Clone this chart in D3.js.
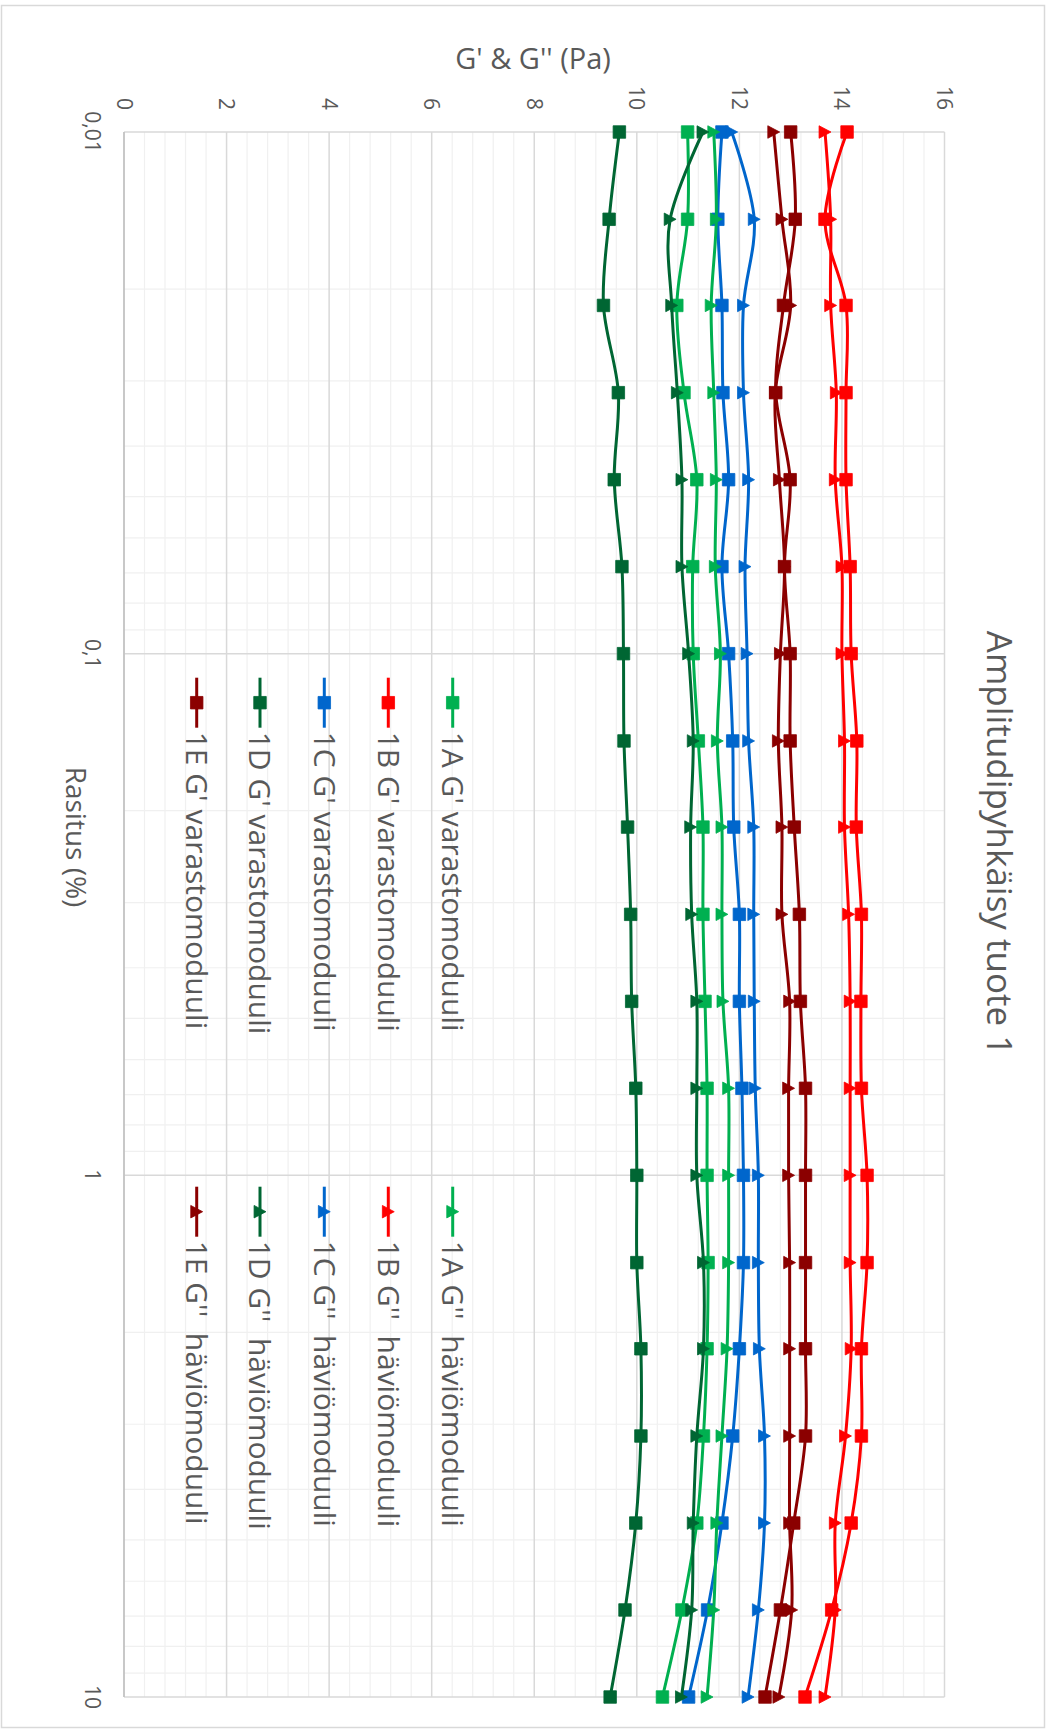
<!DOCTYPE html>
<html>
<head>
<meta charset="utf-8">
<script src="https://cdn.jsdelivr.net/npm/d3@7"></script>
<style>
  html, body { margin: 0; padding: 0; background: #ffffff; }
  svg { display: block; }
  text { font-family: "Open Sans", "Noto Sans", sans-serif; fill: #595959; white-space: pre; }
</style>
</head>
<body>
<svg id="chart" width="1050" height="1731"></svg>
<script>
// Strain amplitude sweep (%), 6 points per decade
const strain = [0.01, 0.0147, 0.0215, 0.0316, 0.0464, 0.0681, 0.1, 0.147, 0.215, 0.316,
                0.464, 0.681, 1, 1.47, 2.15, 3.16, 4.64, 6.81, 10];

// Storage modulus G' (Pa)
const g1A_storage = [10.99, 10.99, 10.78, 10.92, 11.17, 11.09, 11.10, 11.20, 11.29, 11.29,
                     11.33, 11.37, 11.37, 11.39, 11.37, 11.30, 11.17, 10.88, 10.50];
const g1B_storage = [14.10, 13.67, 14.08, 14.08, 14.08, 14.16, 14.18, 14.29, 14.28, 14.38,
                     14.37, 14.38, 14.49, 14.49, 14.38, 14.38, 14.18, 13.80, 13.28];
const g1C_storage = [11.66, 11.58, 11.66, 11.68, 11.79, 11.66, 11.79, 11.87, 11.89, 12.00,
                     12.00, 12.05, 12.08, 12.08, 12.00, 11.87, 11.66, 11.38, 11.01];
const g1D_storage = [9.66, 9.46, 9.35, 9.64, 9.56, 9.71, 9.74, 9.75, 9.82, 9.88,
                     9.90, 9.98, 10.00, 10.00, 10.08, 10.08, 9.98, 9.77, 9.48];
const g1E_storage = [13.00, 13.09, 12.86, 12.71, 12.99, 12.88, 12.99, 12.99, 13.07, 13.17,
                     13.19, 13.29, 13.29, 13.29, 13.29, 13.29, 13.06, 12.80, 12.50];

// Loss modulus G'' (Pa)
const g1A_loss = [11.50, 11.55, 11.45, 11.50, 11.55, 11.53, 11.63, 11.57, 11.66, 11.66,
                  11.68, 11.79, 11.79, 11.79, 11.76, 11.66, 11.56, 11.50, 11.37];
const g1B_loss = [13.67, 13.78, 13.78, 13.89, 13.87, 14.00, 14.00, 14.05, 14.05, 14.13,
                  14.16, 14.16, 14.16, 14.16, 14.18, 14.07, 13.87, 13.87, 13.67];
const g1C_loss = [11.85, 12.29, 12.08, 12.08, 12.18, 12.11, 12.15, 12.18, 12.28, 12.28,
                  12.29, 12.31, 12.37, 12.37, 12.39, 12.49, 12.49, 12.37, 12.17];
const g1D_loss = [11.29, 10.65, 10.68, 10.79, 10.88, 10.88, 11.01, 11.10, 11.05, 11.07,
                  11.17, 11.17, 11.17, 11.30, 11.30, 11.17, 11.10, 11.07, 10.87];
const g1E_loss = [12.67, 12.83, 13.00, 12.70, 12.78, 12.88, 12.80, 12.76, 12.83, 12.83,
                  12.98, 12.96, 12.96, 12.98, 12.98, 12.98, 12.98, 13.02, 12.77];

const seriesNames = [
  "1A G' varastomoduuli", "1B G' varastomoduuli", "1C G' varastomoduuli",
  "1D G' varastomoduuli", "1E G' varastomoduuli",
  "1A G''  häviömoduuli", "1B G''  häviömoduuli", "1C G''  häviömoduuli",
  "1D G''  häviömoduuli", "1E G''  häviömoduuli"
];
const seriesColors = ["#00b050", "#ff0000", "#0066cc", "#006633", "#8b0000"];

const gTicks = [0, 2, 4, 6, 8, 10, 12, 14, 16];
const strainTicks = [0.01, 0.1, 1, 10];
const strainTickLabels = ["0,01", "0,1", "1", "10"];

const titleText = "Amplitudipyhkäisy tuote 1";
const xTitleText = "Rasitus (%)";
const yTitleText = "G' & G'' (Pa)";

// ---------------------------------------------------------------
const series = [
  { name: seriesNames[0], color: seriesColors[0], values: g1A_storage, marker: "square" },
  { name: seriesNames[1], color: seriesColors[1], values: g1B_storage, marker: "square" },
  { name: seriesNames[2], color: seriesColors[2], values: g1C_storage, marker: "square" },
  { name: seriesNames[3], color: seriesColors[3], values: g1D_storage, marker: "square" },
  { name: seriesNames[4], color: seriesColors[4], values: g1E_storage, marker: "square" },
  { name: seriesNames[5], color: seriesColors[0], values: g1A_loss, marker: "triangle" },
  { name: seriesNames[6], color: seriesColors[1], values: g1B_loss, marker: "triangle" },
  { name: seriesNames[7], color: seriesColors[2], values: g1C_loss, marker: "triangle" },
  { name: seriesNames[8], color: seriesColors[3], values: g1D_loss, marker: "triangle" },
  { name: seriesNames[9], color: seriesColors[4], values: g1E_loss, marker: "triangle" }
];

const svg = d3.select("#chart");
svg.append("rect").attr("width", 1050).attr("height", 1731).attr("fill", "#ffffff");

// outer chart-area frame
svg.append("rect")
  .attr("x", 1.5).attr("y", 5.5).attr("width", 1043).attr("height", 1722)
  .attr("fill", "none").attr("stroke", "#d9d9d9").attr("stroke-width", 1.5);

// The whole chart is laid out landscape and turned a quarter turn clockwise.
const g = svg.append("g").attr("transform", "translate(1050,0) rotate(90)");

const plot = { left: 132, right: 1697, top: 105.5, bottom: 926 };

const x = d3.scaleLog().domain([0.01, 10]).range([plot.left, plot.right]);
const y = d3.scaleLinear().domain([0, 16]).range([plot.bottom, plot.top]);

// minor grid
const gMinor = d3.range(0, 16.0001, 0.4).filter(v => Math.abs(v / 2 - Math.round(v / 2)) > 1e-6);
const xMinor = [];
[0.01, 0.1, 1].forEach(dec => { for (let k = 2; k <= 9; k++) xMinor.push(dec * k); });

const grid = g.append("g");
grid.selectAll("line.ym").data(gMinor).enter().append("line")
  .attr("x1", plot.left).attr("x2", plot.right)
  .attr("y1", d => y(d)).attr("y2", d => y(d))
  .attr("stroke", "#f0f0f0").attr("stroke-width", 1.2);
grid.selectAll("line.xm").data(xMinor).enter().append("line")
  .attr("x1", d => x(d)).attr("x2", d => x(d))
  .attr("y1", plot.top).attr("y2", plot.bottom)
  .attr("stroke", "#f0f0f0").attr("stroke-width", 1.2);
grid.selectAll("line.yM").data(gTicks).enter().append("line")
  .attr("x1", plot.left).attr("x2", plot.right)
  .attr("y1", d => y(d)).attr("y2", d => y(d))
  .attr("stroke", "#d9d9d9").attr("stroke-width", 1.5);
grid.selectAll("line.xM").data(strainTicks).enter().append("line")
  .attr("x1", d => x(d)).attr("x2", d => x(d))
  .attr("y1", plot.top).attr("y2", plot.bottom)
  .attr("stroke", "#d9d9d9").attr("stroke-width", 1.5);
// category-axis line at G = 0
g.append("line")
  .attr("x1", plot.left).attr("x2", plot.right)
  .attr("y1", y(0)).attr("y2", y(0))
  .attr("stroke", "#bfbfbf").attr("stroke-width", 1.5);

// tick labels
g.append("g").selectAll("text").data(gTicks).enter().append("text")
  .attr("x", 110).attr("y", d => y(d) + 7.5)
  .attr("text-anchor", "end").attr("font-size", 21)
  .text(d => d);
g.append("g").selectAll("text").data(strainTicks).enter().append("text")
  .attr("x", d => x(d)).attr("y", 965)
  .attr("text-anchor", "middle").attr("font-size", 21)
  .text((d, i) => strainTickLabels[i]);

// titles
g.append("text")
  .attr("x", 843).attr("y", 63.5)
  .attr("text-anchor", "middle").attr("font-size", 35)
  .text(titleText);
g.append("text")
  .attr("transform", "translate(69,517) rotate(-90)")
  .attr("text-anchor", "middle").attr("font-size", 29)
  .text(yTitleText);
g.append("text")
  .attr("x", 837).attr("y", 984)
  .attr("text-anchor", "middle").attr("font-size", 28)
  .text(xTitleText);

// markers
const MS = 12.5;
function markerPath(type) {
  if (type === "square") {
    const h = MS / 2;
    return `M${-h},${-h}H${h}V${h}H${-h}Z`;
  }
  const w = MS * 1.0, h = MS * 0.95;
  return `M0,${-h / 2}L${w / 2},${h / 2}L${-w / 2},${h / 2}Z`;
}

const line = d3.line()
  .x(d => x(d[0]))
  .y(d => y(d[1]))
  .curve(d3.curveCardinal.tension(0));

const dataLayer = g.append("g");
series.forEach(s => {
  const pts = strain.map((st, i) => [st, s.values[i]]);
  const sg = dataLayer.append("g");
  sg.append("path")
    .attr("d", line(pts))
    .attr("fill", "none")
    .attr("stroke", s.color)
    .attr("stroke-width", 3)
    .attr("stroke-linejoin", "round");
  sg.selectAll("path.m").data(pts).enter().append("path")
    .attr("class", "m")
    .attr("transform", d => `translate(${x(d[0])},${y(d[1])})`)
    .attr("d", markerPath(s.marker))
    .attr("fill", s.color)
    .attr("stroke", s.color)
    .attr("stroke-width", 0.8);
});

// legend: two columns (G' | G''), five rows
const legendRows = [597.3, 661.7, 725.7, 790, 853.3];
const legendCols = [702.7, 1211.7];
const legend = g.append("g");
series.forEach((s, i) => {
  const col = Math.floor(i / 5), row = i % 5;
  const cx = legendCols[col], cy = legendRows[row];
  const it = legend.append("g");
  it.append("line")
    .attr("x1", cx - 25).attr("x2", cx + 25)
    .attr("y1", cy).attr("y2", cy)
    .attr("stroke", s.color).attr("stroke-width", 3);
  it.append("path")
    .attr("transform", `translate(${cx},${cy})`)
    .attr("d", markerPath(s.marker))
    .attr("fill", s.color).attr("stroke", s.color).attr("stroke-width", 0.8);
  it.append("text")
    .attr("x", cx + 29).attr("y", cy + 10.7)
    .attr("font-size", 30)
    .text(s.name);
});
</script>
</body>
</html>
